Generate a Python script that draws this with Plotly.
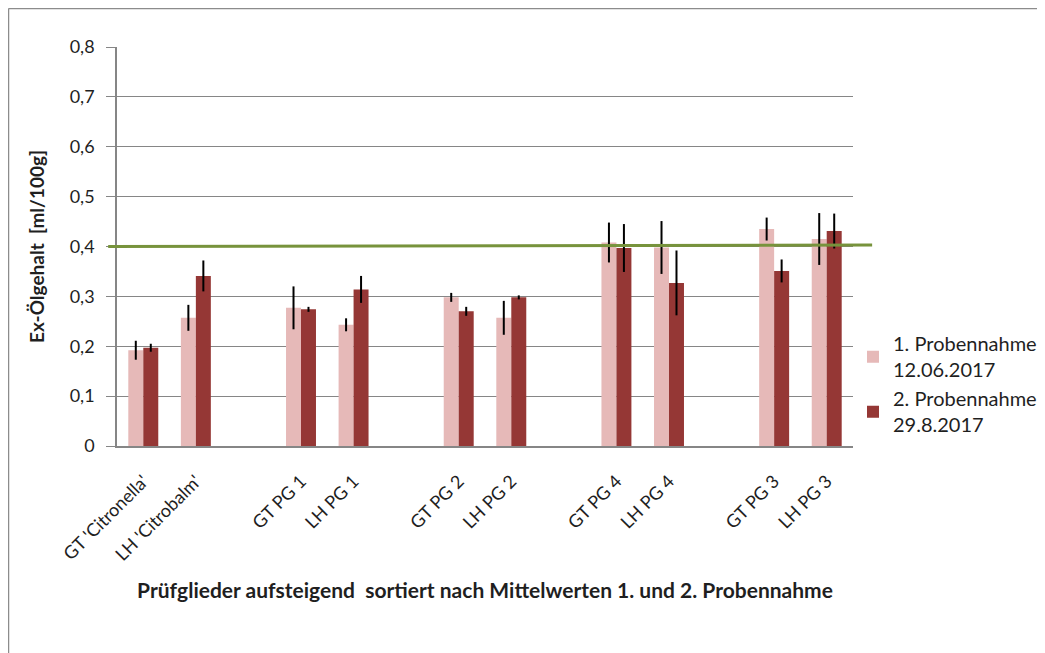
import plotly.graph_objects as go

categories = ["GT 'Citronella'", "LH 'Citrobalm'", " ",
              "GT PG 1", "LH PG 1", "  ",
              "GT PG 2", "LH PG 2", "   ",
              "GT PG 4", "LH PG 4", "    ",
              "GT PG 3", "LH PG 3"]

probe1 = [0.192, 0.257, None, 0.277, 0.243, None, 0.298, 0.257, None, 0.408, 0.398, None, 0.435, 0.415]
probe1_err = [0.019, 0.026, None, 0.043, 0.013, None, 0.009, 0.034, None, 0.040, 0.053, None, 0.023, 0.052]
probe2 = [0.197, 0.341, None, 0.274, 0.314, None, 0.270, 0.298, None, 0.397, 0.327, None, 0.351, 0.431]
probe2_err = [0.008, 0.031, None, 0.005, 0.027, None, 0.009, 0.004, None, 0.048, 0.065, None, 0.023, 0.035]

grenzwert = [0.400, 0.403]

y_ticks = [0, 0.1, 0.2, 0.3, 0.4, 0.5, 0.6, 0.7, 0.8]
y_labels = ["0", "0,1", "0,2", "0,3", "0,4", "0,5", "0,6", "0,7", "0,8"]

FONT = "Lato, Liberation Sans, Arial"
TXT = "#1f1f1f"

# plot area in figure coordinates (page has an 8px body margin)
L, R, T, B = 109, 845, 39, 438
W, H = R - L, B - T

fig = go.Figure()
fig.add_trace(go.Bar(
    x=categories, y=probe1, name="1. Probennahme<br>12.06.2017",
    marker=dict(color="#E6B9B8", line=dict(width=0)),
    error_y=dict(type="data", array=probe1_err, color="black", thickness=2, width=0),
))
fig.add_trace(go.Bar(
    x=categories, y=probe2, name="2. Probennahme<br>29.8.2017",
    marker=dict(color="#953735", line=dict(width=0)),
    error_y=dict(type="data", array=probe2_err, color="black", thickness=2, width=0),
))

fig.add_shape(type="line", xref="paper", yref="y",
              x0=-0.012, x1=1.026, y0=grenzwert[0], y1=grenzwert[1],
              line=dict(color="#77933C", width=3), layer="above")

# outer chart border (left and top visible)
top = (H + T - 0.5) / H
left = -(L - 0.5) / W
fig.add_shape(type="line", xref="paper", yref="paper",
              x0=left, x1=left, y0=-(653 - B) / H, y1=top,
              line=dict(color="#8c8c8c", width=1.5))
fig.add_shape(type="line", xref="paper", yref="paper",
              x0=left, x1=(1045 - L) / W, y0=top, y1=top,
              line=dict(color="#8c8c8c", width=1.5))

fig.update_layout(
    width=1045, height=653,
    margin=dict(l=L, r=1045 - R, t=T, b=653 - B, autoexpand=False),
    paper_bgcolor="white", plot_bgcolor="white",
    barmode="group", bargap=0.43, bargroupgap=0,
    font=dict(family=FONT, size=18, color=TXT),
    showlegend=True,
    legend=dict(x=1.0, y=0.155, xanchor="left", yanchor="middle",
                font=dict(family=FONT, size=20, color=TXT),
                tracegroupgap=26, itemwidth=30, bgcolor="rgba(0,0,0,0)"),
    xaxis=dict(
        type="category", categoryorder="array", categoryarray=categories,
        tickangle=-45, tickfont=dict(family=FONT, size=18, color=TXT),
        ticklabelstandoff=16,
        showline=True, linecolor="#868686", linewidth=1.5,
        ticks="", showgrid=False,
        title=dict(text="<b>Prüfglieder aufsteigend  sortiert nach Mittelwerten 1. und 2. Probennahme</b>",
                   font=dict(family=FONT, size=21, color=TXT), standoff=20),
    ),
    yaxis=dict(
        range=[0, 0.8], tickvals=y_ticks, ticktext=y_labels,
        tickfont=dict(family=FONT, size=18, color=TXT),
        ticklabelstandoff=8,
        showgrid=True, gridcolor="#868686", gridwidth=1,
        showline=True, linecolor="#868686", linewidth=1.5,
        ticks="outside", ticklen=9, tickcolor="#868686", tickwidth=1,
        zeroline=False,
        title=dict(text="<b>Ex-Ölgehalt  [ml/100g]</b>",
                   font=dict(family=FONT, size=19, color=TXT), standoff=20),
    ),
)

fig.write_html("out.html")
